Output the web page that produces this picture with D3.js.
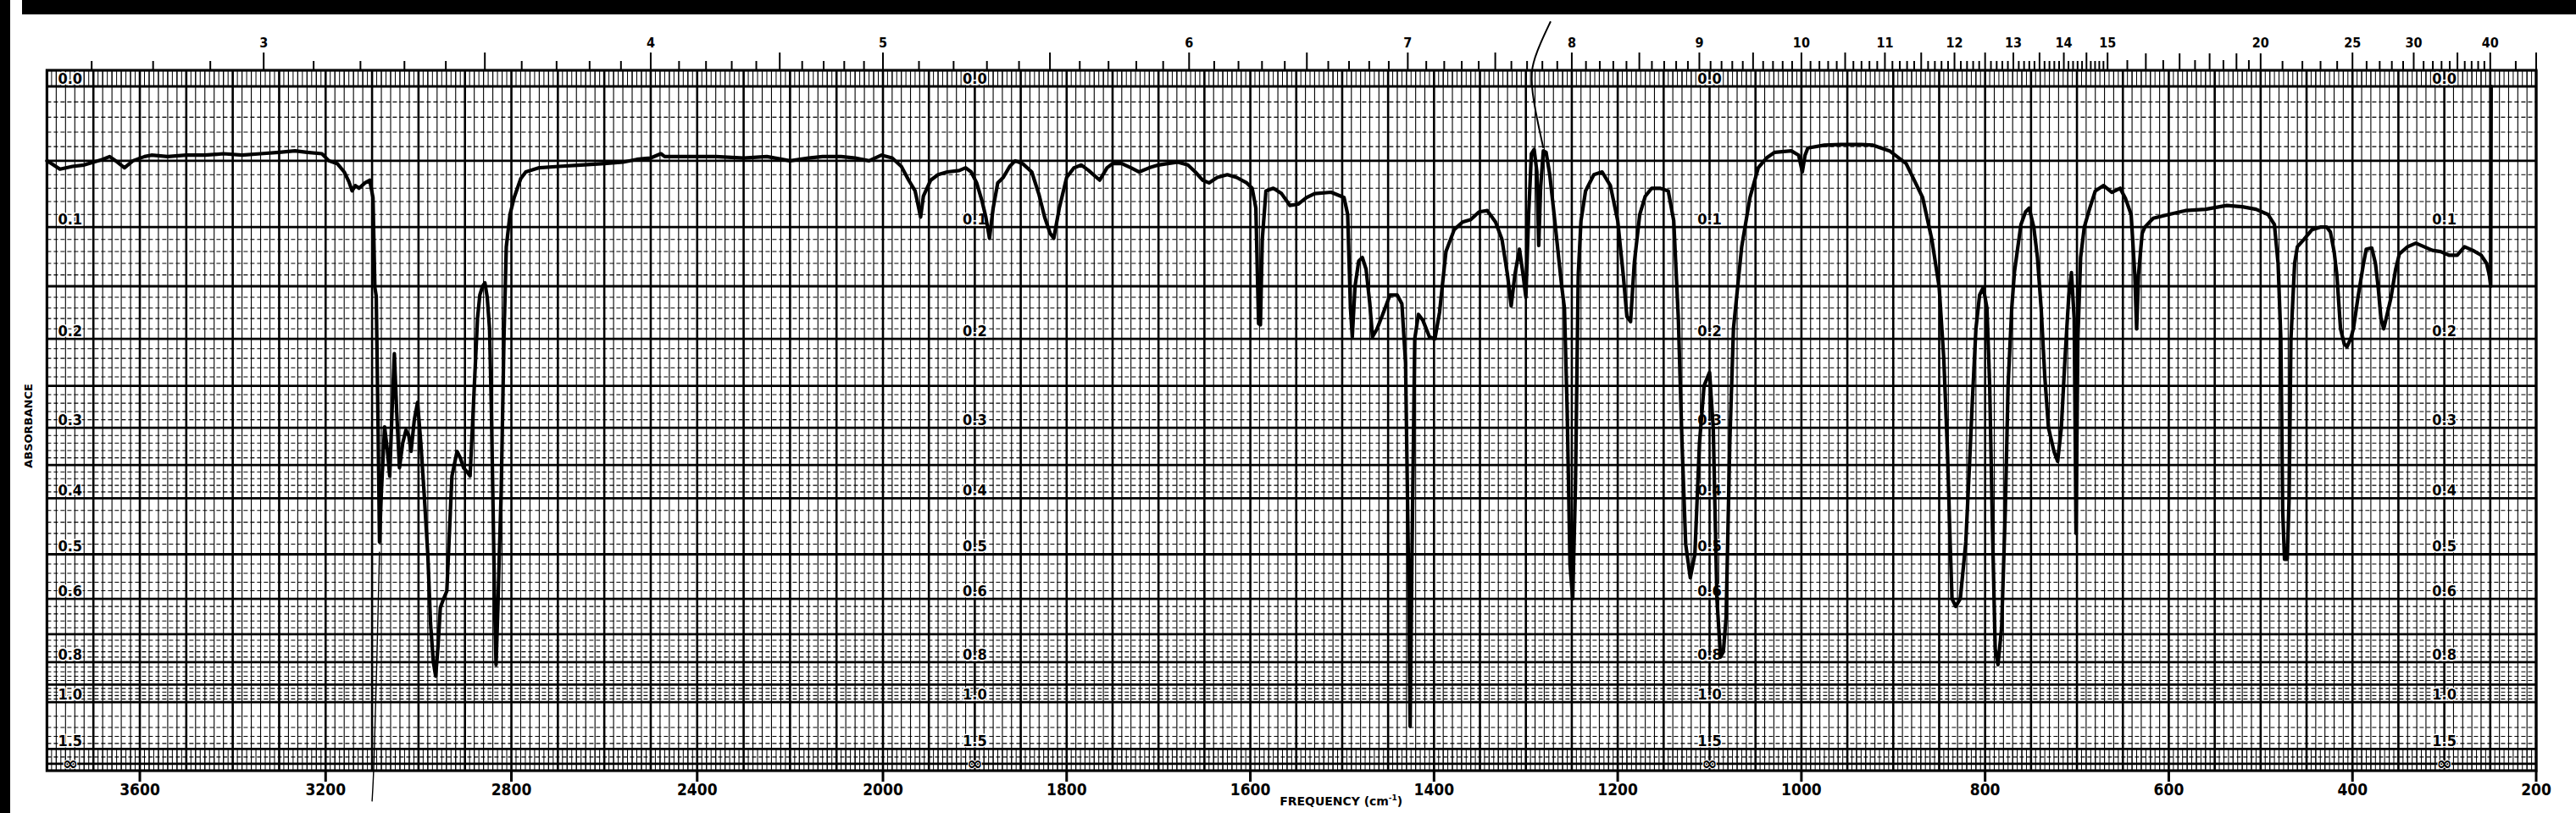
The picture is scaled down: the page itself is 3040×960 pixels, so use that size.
<!DOCTYPE html>
<html><head><meta charset="utf-8">
<script src="https://cdn.jsdelivr.net/npm/d3@7"></script>
<style>html,body{margin:0;padding:0;background:#fff;}svg{display:block;}</style>
</head><body>
<svg id="chart" width="3040" height="960"></svg>
<script>
// ---------------- DATA ----------------
// spectrum: [wavenumber cm-1, absorbance]
const spectrum = [
[3800,.050],[3790,.052],[3772,.056],[3745,.054],[3720,.053],[3700,.051],[3680,.049],[3665,.047],[3648,.051],[3633,.055],[3615,.050],[3590,.047],[3575,.046],[3540,.047],[3500,.046],[3460,.046],[3420,.045],[3380,.046],[3340,.045],[3300,.044],[3266,.043],[3240,.044],[3208,.045],[3193,.050],[3175,.052],[3160,.058],[3150,.065],[3143,.072],[3136,.068],[3128,.070],[3115,.066],[3105,.064],[3098,.077],[3094,.151],[3091,.159],[3087,.30],[3084,.476],[3080,.391],[3073,.299],[3067,.33],[3062,.366],[3057,.28],[3052,.215],[3047,.28],[3041,.354],[3034,.32],[3027,.303],[3021,.31],[3016,.331],[3009,.29],[3002,.269],[2995,.32],[2988,.391],[2980,.50],[2974,.669],[2968,.80],[2963,.86],[2958,.74],[2953,.623],[2946,.60],[2939,.581],[2933,.45],[2928,.366],[2917,.331],[2910,.34],[2903,.354],[2895,.36],[2889,.366],[2884,.30],[2879,.241],[2873,.18],[2868,.158],[2862,.15],[2857,.147],[2852,.16],[2847,.19],[2843,.28],[2840,.391],[2836,.62],[2833,.81],[2829,.62],[2826,.50],[2822,.391],[2816,.2],[2811,.116],[2803,.09],[2794,.077],[2780,.063],[2769,.058],[2740,.055],[2698,.054],[2650,.053],[2600,.052],[2560,.051],[2530,.049],[2500,.048],[2478,.045],[2470,.047],[2420,.047],[2360,.047],[2300,.048],[2250,.047],[2200,.050],[2160,.048],[2130,.047],[2090,.047],[2060,.048],[2030,.050],[2003,.046],
[1990,.048],[1980,.054],[1972,.064],[1965,.072],[1959,.092],[1956,.076],[1948,.064],[1940,.060],[1930,.058],[1917,.057],[1910,.055],[1904,.058],[1898,.066],[1892,.080],[1888,.092],[1884,.109],[1880,.085],[1875,.066],[1869,.062],[1862,.054],[1856,.050],[1848,.052],[1838,.058],[1830,.075],[1824,.092],[1818,.105],[1814,.109],[1808,.085],[1800,.062],[1792,.055],[1784,.053],[1776,.057],[1764,.064],[1756,.055],[1750,.052],[1740,.052],[1730,.055],[1721,.058],[1710,.055],[1700,.053],[1690,.052],[1679,.051],[1668,.053],[1660,.058],[1652,.064],[1645,.066],[1636,.062],[1625,.060],[1615,.062],[1604,.066],[1598,.070],[1594,.085],[1592,.150],[1591,.185],[1589,.186],[1587,.110],[1583,.072],[1575,.070],[1566,.074],[1557,.083],[1548,.082],[1539,.077],[1530,.074],[1512,.073],[1498,.077],[1494,.090],[1491,.17],[1489,.198],[1486,.15],[1482,.128],[1478,.125],[1474,.135],[1470,.165],[1467,.198],[1462,.19],[1455,.174],[1448,.158],[1440,.158],[1435,.166],[1431,.225],[1428,.5],[1426,1.19],[1424,.5],[1421,.20],[1417,.176],[1412,.182],[1405,.198],[1399,.200],[1394,.174],[1387,.120],[1378,.102],[1369,.096],[1360,.094],[1351,.088],[1342,.087],[1333,.096],[1326,.11],[1320,.14],[1316,.168],[1312,.14],[1307,.118],[1303,.14],[1300,.16],[1297,.09],[1294,.045],[1291,.042],[1288,.058],[1286,.115],[1284,.07],[1281,.043],[1278,.044],[1274,.06],[1270,.085],[1265,.12],[1261,.15],[1258,.17],[1255,.28],[1252,.52],[1249,.60],[1246,.38],[1243,.14],[1240,.095],[1235,.072],[1226,.060],[1217,.058],[1208,.068],[1200,.095],[1194,.14],[1190,.178],[1186,.183],[1182,.13],[1176,.09],[1170,.076],[1163,.070],[1154,.070],[1145,.072],[1139,.095],[1134,.18],[1130,.32],[1126,.48],[1121,.55],[1116,.50],[1111,.32],[1106,.25],[1100,.235],[1096,.30],[1092,.60],[1088,.78],[1085,.76],[1082,.65],[1078,.32],[1074,.19],[1065,.116],[1056,.077],[1047,.055],[1038,.048],[1029,.044],[1011,.043],[1003,.046],[999,.058],[996,.046],[993,.041],[975,.039],[957,.0385],[935,.0385],[922,.039],[904,.043],[886,.052],[868,.077],[858,.11],[850,.151],[845,.22],[841,.33],[838,.48],[836,.60],[832,.62],[827,.60],[821,.476],[817,.35],[814,.27],[810,.19],[806,.158],[802,.151],[798,.17],[795,.25],[792,.45],[789,.75],[786,.81],[782,.68],[778,.42],[775,.25],[771,.17],[768,.137],[761,.098],[756,.088],[752,.085],[747,.10],[743,.125],[739,.17],[735,.24],[731,.30],[725,.331],[721,.345],[717,.30],[713,.22],[709,.16],[706,.138],[703,.18],[701,.46],[699,.20],[696,.125],[692,.100],[686,.085],[680,.072],[671,.068],[662,.073],[653,.070],[647,.078],[641,.09],[637,.14],[635,.19],[633,.14],[629,.105],[626,.100],[617,.093],[600,.090],[582,.087],[560,.086],[537,.083],[520,.084],[505,.086],[492,.090],[485,.098],[481,.13],[478,.20],[476,.42],[474,.51],[471,.51],[469,.40],[467,.20],[463,.13],[460,.116],[453,.110],[444,.102],[435,.100],[428,.100],[424,.104],[420,.12],[417,.14],[413,.19],[409,.205],[406,.208],[402,.20],[399,.19],[394,.16],[388,.13],[385,.118],[379,.117],[375,.13],[372,.151],[369,.18],[366,.19],[362,.175],[358,.160],[353,.135],[349,.122],[340,.116],[331,.113],[322,.116],[313,.119],[304,.12],[295,.123],[286,.123],[278,.116],[269,.119],[260,.123],[254,.13],[251,.14],[249.5,.15],[249,0.0]
];
// stray pen strokes on the chart: [wavenumber, transmittance]
const penStrokeTop = [[1273,1.095],[1284,1.064],[1295,1.027],[1293,0.99],[1288,0.953],[1281,0.91]];
const penStrokeDrop = [[3084,0.32],[3090,0.15],[3096,0.0],[3100,-0.045]];

const freqTickValues = [3600,3200,2800,2400,2000,1800,1600,1400,1200,1000,800,600,400,200];
const micronLabelValues = [3,4,5,6,7,8,9,10,11,12,13,14,15,20,25,30,40];
const absLabelValues = [0.0,0.1,0.2,0.3,0.4,0.5,0.6,0.8,1.0,1.5];
const absLabelText = ["0.0","0.1","0.2","0.3","0.4","0.5","0.6","0.8","1.0","1.5"];
const absLabelColumns = [3750,1900,1100,300];
const absMajorLines = [0,0.05,0.1,0.15,0.2,0.25,0.3,0.35,0.4,0.5,0.6,0.7,0.8,0.9,1.0,1.5,2.0];

// ---------------- SCALES ----------------
const svg = d3.select("#chart");
const x = d3.scaleLinear().domain([3800,2000,200]).range([55.4,1042,2993]);
const yT = d3.scaleLinear().domain([1,0]).range([102,910]);   // transmittance paper
const yA = a => yT(Math.pow(10,-a));
const X0 = x(3800), X1 = x(200);
const YTOP = yT(1.0235), YBOT = yT(0);

svg.append("rect").attr("width",3040).attr("height",960).attr("fill","#fff");

const grid = svg.append("g");
// minor vertical lines
const vMinor = d3.range(3800,2000,-20).concat(d3.range(2000,199,-10));
grid.selectAll(".vmin").data(vMinor).join("line")
  .attr("x1",d=>x(d)).attr("x2",d=>x(d)).attr("y1",YTOP).attr("y2",YBOT)
  .attr("stroke","#000").attr("stroke-width",1.1);
// fine vertical lines in the top and bottom bands
const vFine = d3.range(3800,2000,-10).concat(d3.range(2000,199,-5));
[[YTOP,yA(0)],[yA(1.5),YBOT]].forEach(([a,b])=>{
  grid.append("g").selectAll("line").data(vFine).join("line")
    .attr("x1",d=>x(d)).attr("x2",d=>x(d)).attr("y1",a).attr("y2",b)
    .attr("stroke","#000").attr("stroke-width",1);
});
// minor horizontal (dashed)
const hMinor = [];
d3.range(1,40).forEach(i=>{ if(i%5) hMinor.push(i/100); });
d3.range(42,100,2).forEach(i=>{ if(i%10) hMinor.push(i/100); });
[1.1,1.2,1.3,1.4,1.7].forEach(v=>hMinor.push(v));
grid.selectAll(".hmin").data(hMinor).join("line")
  .attr("x1",X0).attr("x2",X1).attr("y1",d=>yA(d)).attr("y2",d=>yA(d))
  .attr("stroke","#000").attr("stroke-width",1.1).attr("stroke-dasharray","5,3");
// major vertical
const vMajor = d3.range(3800,2000,-100).concat(d3.range(2000,199,-50));
grid.selectAll(".vmaj").data(vMajor).join("line")
  .attr("x1",d=>x(d)).attr("x2",d=>x(d)).attr("y1",YTOP).attr("y2",YBOT)
  .attr("stroke","#000").attr("stroke-width",2.6);
// major horizontal
grid.selectAll(".hmaj").data(absMajorLines).join("line")
  .attr("x1",X0).attr("x2",X1).attr("y1",d=>yA(d)).attr("y2",d=>yA(d))
  .attr("stroke","#000").attr("stroke-width",2.8);
// border
svg.append("rect").attr("x",X0).attr("y",YTOP).attr("width",X1-X0).attr("height",YBOT-YTOP)
  .attr("fill","none").attr("stroke","#000").attr("stroke-width",3.2);

// ---------------- TOP MICRON SCALE ----------------
const micronTicks = [];
d3.range(27,151).forEach(i=>{ const m=i/10; micronTicks.push({m, len: (i%5===0)?21:11}); });
d3.range(31,41).forEach(i=>{ const m=i/2; micronTicks.push({m, len:(i%2===0)?20:12}); });
d3.range(21,41).forEach(i=>{ micronTicks.push({m:i, len:(i%5===0)?21:11}); });
micronTicks.push({m:45,len:11}); micronTicks.push({m:50,len:21});
svg.append("g").selectAll("line").data(micronTicks).join("line")
  .attr("x1",d=>x(1e4/d.m)).attr("x2",d=>x(1e4/d.m))
  .attr("y1",YTOP).attr("y2",d=>YTOP-d.len)
  .attr("stroke","#000").attr("stroke-width",2);
const FONT = "'Liberation Sans Narrow','DejaVu Sans Condensed','Roboto Condensed',sans-serif";
svg.append("g").selectAll("text").data(micronLabelValues).join("text")
  .attr("x",d=>x(1e4/d)).attr("y",56).attr("text-anchor","middle")
  .attr("font-family",FONT).attr("font-weight","bold").attr("font-size",16)
  .text(d=>d);

// ---------------- BOTTOM FREQUENCY AXIS ----------------
svg.append("g").selectAll("line").data(freqTickValues).join("line")
  .attr("x1",d=>x(d)).attr("x2",d=>x(d)).attr("y1",YBOT).attr("y2",YBOT+13)
  .attr("stroke","#000").attr("stroke-width",3);
svg.append("g").selectAll("text").data(freqTickValues).join("text")
  .attr("x",d=>x(d)).attr("y",939).attr("text-anchor","middle")
  .attr("font-family",FONT).attr("font-weight","bold").attr("font-size",19)
  .text(d=>d);
const fl = svg.append("text").attr("x",x(1568)).attr("y",951)
  .attr("font-family",FONT).attr("font-weight","bold").attr("font-size",14)
  .attr("textLength",145).attr("lengthAdjust","spacingAndGlyphs");
fl.append("tspan").text("FREQUENCY  (cm");
fl.append("tspan").attr("dy",-6).attr("font-size",9).text("-1");
fl.append("tspan").attr("dy",6).text(")");

svg.append("text").attr("transform","translate(38,503) rotate(-90)")
  .attr("text-anchor","middle").attr("font-family","'DejaVu Sans',sans-serif")
  .attr("font-weight","bold").attr("font-size",13).text("ABSORBANCE");

// ---------------- ABSORBANCE LABELS ----------------
const absG = svg.append("g");
absLabelColumns.forEach(col=>{
  absG.append("g").selectAll("text").data(absLabelValues).join("text")
    .attr("x",x(col)).attr("y",(d)=> d===0 ? yA(0)-3 : yA(d)-3)
    .attr("text-anchor","middle").attr("font-family",FONT).attr("font-weight","bold")
    .attr("font-size",18).attr("stroke","#fff").attr("stroke-width",3)
    .attr("paint-order","stroke").attr("fill","#000")
    .text((d,i)=>absLabelText[i]);
  absG.append("text").attr("x",x(col)).attr("y",yA(2.0)+7).attr("text-anchor","middle")
    .attr("font-family","'DejaVu Sans',sans-serif").attr("font-weight","bold").attr("font-size",22)
    .attr("stroke","#fff").attr("stroke-width",2).attr("paint-order","stroke").text("∞");
});

// ---------------- SPECTRUM ----------------
const line = d3.line().x(d=>x(d[0])).y(d=>yA(d[1]));
svg.append("path").datum(spectrum).attr("d",line)
  .attr("fill","none").attr("stroke","#000").attr("stroke-width",4.2)
  .attr("stroke-linejoin","round").attr("stroke-linecap","round");
const penLine = d3.line().x(d=>x(d[0])).y(d=>yT(d[1])).curve(d3.curveBasis);
svg.append("path").datum(penStrokeTop).attr("d",penLine)
  .attr("fill","none").attr("stroke","#000").attr("stroke-width",2);
svg.append("path").datum(penStrokeDrop).attr("d",penLine)
  .attr("fill","none").attr("stroke","#000").attr("stroke-width",1.4);

// ---------------- SCAN EDGES ----------------
svg.append("rect").attr("x",0).attr("y",0).attr("width",12).attr("height",960).attr("fill","#000");
svg.append("rect").attr("x",26).attr("y",0).attr("width",3014).attr("height",17).attr("fill","#000");
</script>
</body></html>
